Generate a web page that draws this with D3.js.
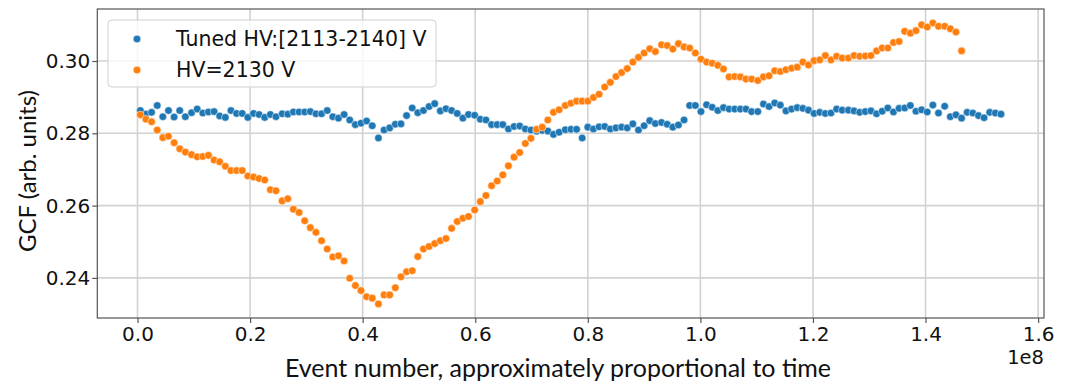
<!DOCTYPE html>
<html>
<head>
<meta charset="utf-8">
<script src="https://cdn.jsdelivr.net/npm/d3@7"></script>
<style>
body{margin:0;background:#fff;}
svg{display:block;}
</style>
</head>
<body>
<div id="chart"></div>
<script>
//1. データ（イベント番号は1e6単位）
const eventX = [
	0.5,1.5,2.5,3.5,4.5,5.5,6.5,7.5,8.5,
	9.6,10.6,11.6,12.6,13.6,14.6,15.6,16.6,17.6,18.6,19.6,20.6,21.6,22.6,23.6,24.6,
	25.7,26.7,27.7,28.7,29.7,30.7,31.7,32.7,33.7,34.7,35.7,36.7,37.7,38.7,39.7,40.7,41.7,
	42.8,43.8,44.8,45.8,46.8,47.8,48.8,49.8,50.8,51.8,52.8,53.8,54.8,55.8,56.8,57.8,58.8,
	59.9,60.9,61.9,62.9,63.9,64.9,65.9,66.9,67.9,68.9,69.9,70.9,71.9,72.9,73.9,74.9,
	76.0,77.0,78.0,79.0,80.0,81.0,82.0,83.0,84.0,85.0,86.0,87.0,88.0,89.0,90.0,91.0,92.0,
	93.1,94.1,95.1,96.1,97.1,98.1,99.1,100.1,101.1,102.1,103.1,104.1,105.1,106.1,107.1,108.1,109.1,
	110.2,111.2,112.2,113.2,114.2,115.2,116.2,117.2,118.2,119.2,120.2,121.2,122.2,123.2,124.2,125.2,
	126.3,127.3,128.3,129.3,130.3,131.3,132.3,133.3,134.3,135.3,136.3,137.3,138.3,139.3,140.3,141.3,142.3,
	143.4,144.4,145.4,146.4,147.4,148.4,149.4,150.4,151.4,152.4,153.4
];

const tunedGcf = [
	0.2863,0.2853,0.2858,0.2877,0.2846,0.2863,0.2845,0.2863,0.2846,0.2857,
	0.2867,0.2856,0.2859,0.2860,0.2848,0.2844,0.2863,0.2855,0.2855,0.2844,
	0.2855,0.2852,0.2844,0.2852,0.2846,0.2854,0.2853,0.2859,0.2859,0.2859,
	0.2860,0.2854,0.2854,0.2863,0.2846,0.2842,0.2852,0.2837,0.2824,0.2828,
	0.2834,0.2821,0.2787,0.2809,0.2815,0.2825,0.2826,0.2849,0.2870,0.2857,
	0.2863,0.2874,0.2882,0.2862,0.2868,0.2863,0.2855,0.2842,0.2852,0.2850,
	0.2839,0.2837,0.2824,0.2824,0.2824,0.2812,0.2819,0.2820,0.2812,0.2809,
	0.2806,0.2808,0.2806,0.2797,0.2803,0.2810,0.2811,0.2811,0.2787,0.2817,
	0.2812,0.2818,0.2819,0.2812,0.2815,0.2817,0.2815,0.2826,0.2809,0.2821,
	0.2835,0.2827,0.2830,0.2825,0.2817,0.2823,0.2837,0.2877,0.2877,0.2860,
	0.2879,0.2872,0.2863,0.2871,0.2867,0.2867,0.2867,0.2867,0.2860,0.2860,
	0.2881,0.2874,0.2884,0.2878,0.2862,0.2867,0.2871,0.2869,0.2864,0.2855,
	0.2858,0.2855,0.2856,0.2867,0.2864,0.2864,0.2862,0.2858,0.2860,0.2862,
	0.2854,0.2861,0.2870,0.2859,0.2869,0.2870,0.2877,0.2861,0.2865,0.2859,
	0.2878,0.2856,0.2875,0.2846,0.2851,0.2842,0.2858,0.2856,0.2849,0.2843,
	0.2858,0.2856,0.2853
];

const fixedGcf = [
	0.2851,0.2839,0.2832,0.2809,0.2788,0.2792,0.2774,0.2757,0.2748,0.2741,
	0.2735,0.2736,0.2739,0.2726,0.2721,0.2709,0.2697,0.2697,0.2697,0.2682,
	0.2679,0.2675,0.2671,0.2644,0.2641,0.2613,0.2619,0.2590,0.2581,0.2558,
	0.2539,0.2526,0.2503,0.2480,0.2458,0.2461,0.2447,0.2399,0.2379,0.2365,
	0.2348,0.2344,0.2328,0.2353,0.2353,0.2373,0.2403,0.2417,0.2420,0.2459,
	0.2480,0.2487,0.2495,0.2503,0.2509,0.2537,0.2556,0.2565,0.2570,0.2588,
	0.2611,0.2628,0.2655,0.2668,0.2685,0.2710,0.2734,0.2747,0.2772,0.2786,
	0.2811,0.2817,0.2837,0.2858,0.2865,0.2877,0.2883,0.2889,0.2889,0.2889,
	0.2899,0.2908,0.2928,0.2941,0.2957,0.2968,0.2979,0.2997,0.3010,0.3022,
	0.3034,0.3026,0.3045,0.3043,0.3033,0.3048,0.3039,0.3036,0.3022,0.3005,
	0.2997,0.2994,0.2988,0.2978,0.2956,0.2957,0.2956,0.2950,0.2950,0.2946,
	0.2956,0.2959,0.2973,0.2971,0.2976,0.2980,0.2983,0.2997,0.2989,0.3001,
	0.3003,0.3015,0.3003,0.3013,0.3008,0.3008,0.3015,0.3013,0.3014,0.3015,
	0.3028,0.3036,0.3036,0.3051,0.3054,0.3082,0.3077,0.3084,0.3100,0.3094,
	0.3105,0.3096,0.3096,0.3089,0.3080,0.3028
];

const seriesNames = ["Tuned HV:[2113-2140] V", "HV=2130 V"];
const seriesColors = ["#1f77b4", "#ff7f0e"];

const xTicks = [0,20,40,60,80,100,120,140,160];
const xTickLabels = ["0.0","0.2","0.4","0.6","0.8","1.0","1.2","1.4","1.6"];
const yTicks = [0.24,0.26,0.28,0.30];
const yTickLabels = ["0.24","0.26","0.28","0.30"];

//2. 描画
const tickFont = "'DejaVu Sans', sans-serif";
const labelFont = "Lato, 'Open Sans', sans-serif";
const textColor = "#111";

//matplotlib風の5%マージン
function padDomain(values){
	let ext = d3.extent(values);
	let pad = (ext[1]-ext[0])*0.05;
	return [ext[0]-pad, ext[1]+pad];
}

function drawChart(){
	let width = 1066;
	let height = 383;
	let plot = {left:97.3, right:1044, top:9, bottom:318};

	let svg = d3.select("#chart").append("svg")
		.attr("width", width)
		.attr("height", height)
		.attr("xmlns","http://www.w3.org/2000/svg");

	svg.append("rect").attr("width",width).attr("height",height).attr("fill","#fff");

	let x = d3.scaleLinear()
		.domain(padDomain(eventX))
		.range([plot.left, plot.right]);
	let y = d3.scaleLinear()
		.domain(padDomain(tunedGcf.concat(fixedGcf)))
		.range([plot.bottom, plot.top]);

	//グリッド
	let grid = svg.append("g").attr("stroke","#d2d2d2").attr("stroke-width",1.6);
	grid.selectAll(".gx").data(xTicks).enter().append("line")
		.attr("x1",d=>x(d)).attr("x2",d=>x(d))
		.attr("y1",plot.top).attr("y2",plot.bottom);
	grid.selectAll(".gy").data(yTicks).enter().append("line")
		.attr("x1",plot.left).attr("x2",plot.right)
		.attr("y1",d=>y(d)).attr("y2",d=>y(d));

	//散布図（青→橙の順）
	let series = [
		{name:seriesNames[0], color:seriesColors[0], values:tunedGcf},
		{name:seriesNames[1], color:seriesColors[1], values:fixedGcf}
	];
	series.forEach(function(s){
		svg.append("g")
			.selectAll("circle")
			.data(s.values)
			.enter()
			.append("circle")
			.attr("cx",(d,i)=>x(eventX[i]))
			.attr("cy",d=>y(d))
			.attr("r",3.8)
			.attr("fill",s.color)
			.attr("stroke","#fff")
			.attr("stroke-width",0.5);
	});

	//枠線
	svg.append("rect")
		.attr("x",plot.left).attr("y",plot.top)
		.attr("width",plot.right-plot.left).attr("height",plot.bottom-plot.top)
		.attr("fill","none").attr("stroke","#555").attr("stroke-width",1.2);

	//軸
	let xAxis = svg.append("g")
		.attr("transform","translate(0,"+plot.bottom+")")
		.call(d3.axisBottom(x).tickValues(xTicks).tickFormat((d,i)=>xTickLabels[i]).tickSize(5).tickPadding(4));
	let yAxis = svg.append("g")
		.attr("transform","translate("+plot.left+",0)")
		.call(d3.axisLeft(y).tickValues(yTicks).tickFormat((d,i)=>yTickLabels[i]).tickSize(5).tickPadding(2));
	[xAxis,yAxis].forEach(function(ax){
		ax.select(".domain").remove();
		ax.selectAll("line").attr("stroke","#555").attr("stroke-width",1.2);
		ax.selectAll("text").attr("fill",textColor).style("font-family",tickFont).style("font-size","20px");
	});

	//オフセット表記
	svg.append("text")
		.attr("x",plot.right).attr("y",364)
		.attr("text-anchor","end")
		.attr("fill",textColor)
		.style("font-family",tickFont).style("font-size","19.5px")
		.text("1e8");

	//軸ラベル
	svg.append("text")
		.attr("x",558).attr("y",377)
		.attr("text-anchor","middle")
		.attr("fill",textColor)
		.style("font-family",labelFont).style("font-size","25px")
		.text("Event number, approximately proportional to time");
	svg.append("text")
		.attr("transform","translate(36,171) rotate(-90)")
		.attr("text-anchor","middle")
		.attr("fill",textColor)
		.style("font-family",labelFont).style("font-size","24px")
		.text("GCF (arb. units)");

	//凡例
	let legend = svg.append("g");
	legend.append("rect")
		.attr("x",108).attr("y",20).attr("width",328).attr("height",67)
		.attr("rx",4).attr("fill","#fff").attr("fill-opacity",0.8)
		.attr("stroke","#d0d0d0").attr("stroke-width",1);
	let rows = legend.selectAll(".row").data(series).enter().append("g")
		.attr("transform",(d,i)=>"translate(0,"+(39+i*31)+")");
	rows.append("circle")
		.attr("cx",137).attr("cy",0).attr("r",3.8)
		.attr("fill",d=>d.color).attr("stroke","#fff").attr("stroke-width",0.5);
	rows.append("text")
		.attr("x",176).attr("y",6.8)
		.attr("fill",textColor)
		.style("font-family",tickFont).style("font-size","20.5px")
		.text(d=>d.name);
}

drawChart();
</script>
</body>
</html>
